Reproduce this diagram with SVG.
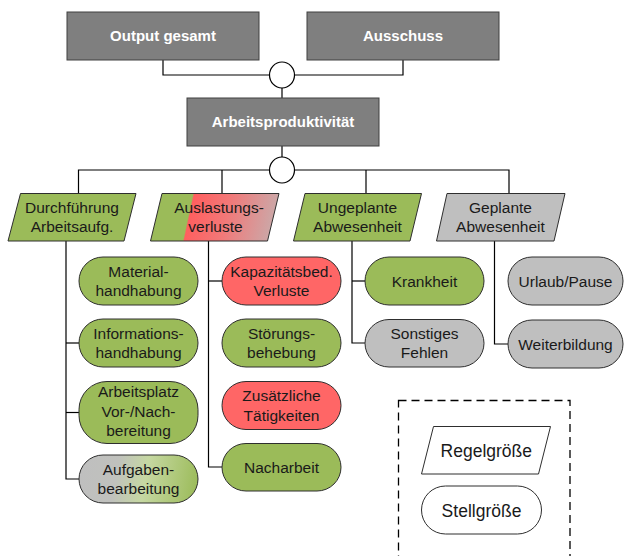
<svg xmlns="http://www.w3.org/2000/svg" width="624" height="556" viewBox="0 0 624 556">
  <defs>
    <linearGradient id="gradAuslastung" gradientUnits="userSpaceOnUse" x1="150" y1="205" x2="275" y2="232">
      <stop offset="0" stop-color="#9BBB59"/>
      <stop offset="0.31" stop-color="#9BBB59"/>
      <stop offset="0.32" stop-color="#FF5F5F"/>
      <stop offset="0.6" stop-color="#F27878"/>
      <stop offset="1" stop-color="#C9ABAB"/>
    </linearGradient>
    <linearGradient id="gradAufgaben" gradientUnits="userSpaceOnUse" x1="80" y1="470" x2="198" y2="490">
      <stop offset="0" stop-color="#BFBFBF"/>
      <stop offset="0.3" stop-color="#C0C1BD"/>
      <stop offset="0.55" stop-color="#C6D8A2"/>
      <stop offset="1" stop-color="#9BBB59"/>
    </linearGradient>
    <style>
      .box { fill: #7F7F7F; stroke: #404040; stroke-width: 1; }
      .boxtxt { font-family: "Liberation Sans", Arial, sans-serif; font-size: 15px; font-weight: bold; fill: #FFFFFF; text-anchor: middle; }
      .txt { font-family: "Liberation Sans", Arial, sans-serif; font-size: 15.5px; fill: #1A1A1A; text-anchor: middle; }
      .legtxt { font-family: "Liberation Sans", Arial, sans-serif; font-size: 17.5px; fill: #1A1A1A; text-anchor: middle; }
      .shape { stroke: #2E2E2E; stroke-width: 1; }
      .green { fill: #9BBB59; }
      .red { fill: #FF6666; }
      .grey { fill: #BFBFBF; }
      .white { fill: #FFFFFF; }
      .line { fill: none; stroke: #000000; stroke-width: 1.2; }
      .junction { fill: #FFFFFF; stroke: #000000; stroke-width: 1.2; }
      .legendframe { fill: none; stroke: #000000; stroke-width: 1.3; stroke-dasharray: 8 5; }
    </style>
  </defs>

  <!-- connectors -->
  <g id="connectors">
    <polyline class="line" points="163,60 163,75 403,75 403,60"/>
    <line class="line" x1="282" y1="75" x2="282" y2="98"/>
    <line class="line" x1="282" y1="146" x2="282" y2="170"/>
    <polyline class="line" points="78.5,193.5 78.5,170 509,170 509,193.5"/>
    <line class="line" x1="222" y1="170" x2="222" y2="193.5"/>
    <line class="line" x1="366" y1="170" x2="366" y2="193.5"/>
    <!-- branch: Durchfuehrung -->
    <polyline class="line" points="66,241 66,479 79,479"/>
    <line class="line" x1="66" y1="343" x2="79" y2="343"/>
    <line class="line" x1="66" y1="412.5" x2="79" y2="412.5"/>
    <!-- branch: Auslastungsverluste -->
    <polyline class="line" points="208.5,241 208.5,467 222,467"/>
    <line class="line" x1="208.5" y1="281" x2="222" y2="281"/>
    <!-- branch: Ungeplante Abwesenheit -->
    <polyline class="line" points="352,241 352,343 365,343"/>
    <line class="line" x1="352" y1="281" x2="365" y2="281"/>
    <!-- branch: Geplante Abwesenheit -->
    <polyline class="line" points="494.5,241 494.5,344 508,344"/>
    <!-- junctions -->
    <ellipse class="junction" cx="282" cy="75" rx="12.5" ry="13"/>
    <ellipse class="junction" cx="282" cy="170" rx="12.5" ry="13"/>
  </g>

  <!-- top level -->
  <g id="output-gesamt">
    <rect class="box" x="67" y="12" width="192" height="48"/>
    <text class="boxtxt" x="163" y="41">Output gesamt</text>
  </g>
  <g id="ausschuss">
    <rect class="box" x="307" y="12" width="192" height="48"/>
    <text class="boxtxt" x="403" y="41">Ausschuss</text>
  </g>
  <g id="arbeitsproduktivitaet">
    <rect class="box" x="187" y="98" width="192" height="48"/>
    <text class="boxtxt" x="283" y="127">Arbeitsproduktivität</text>
  </g>

  <!-- controlled variables -->
  <g id="durchfuehrung">
    <polygon class="shape green" points="20.5,193.5 136,193.5 124,241 8,241"/>
    <text class="txt" x="72" y="212.5">Durchführung</text>
    <text class="txt" x="72" y="232">Arbeitsaufg.</text>
  </g>
  <g id="auslastungsverluste">
    <polygon class="shape" fill="url(#gradAuslastung)" points="162,193.5 279,193.5 267.5,241 150.5,241"/>
    <text class="txt" x="219" y="212.5">Auslastungs-</text>
    <text class="txt" x="215.5" y="232">verluste</text>
  </g>
  <g id="ungeplante-abwesenheit">
    <polygon class="shape green" points="305,193.5 421.5,193.5 410,241 293.5,241"/>
    <text class="txt" x="357.5" y="212.5">Ungeplante</text>
    <text class="txt" x="357.5" y="232">Abwesenheit</text>
  </g>
  <g id="geplante-abwesenheit">
    <polygon class="shape grey" points="447,193.5 565,193.5 554,241 436.5,241"/>
    <text class="txt" x="500.5" y="212.5">Geplante</text>
    <text class="txt" x="500.5" y="232">Abwesenheit</text>
  </g>

  <!-- manipulated variables, column 1 -->
  <g id="materialhandhabung">
    <rect class="shape green" x="79" y="257" width="119" height="48" rx="24"/>
    <text class="txt" x="138.5" y="276.5">Material-</text>
    <text class="txt" x="138.5" y="296">handhabung</text>
  </g>
  <g id="informationshandhabung">
    <rect class="shape green" x="79" y="319" width="119" height="48" rx="24"/>
    <text class="txt" x="138.5" y="338.5">Informations-</text>
    <text class="txt" x="138.5" y="358">handhabung</text>
  </g>
  <g id="arbeitsplatz">
    <rect class="shape green" x="79" y="381.5" width="119" height="62" rx="28"/>
    <text class="txt" x="138.5" y="397">Arbeitsplatz</text>
    <text class="txt" x="138.5" y="416.7">Vor-/Nach-</text>
    <text class="txt" x="138.5" y="436.4">bereitung</text>
  </g>
  <g id="aufgabenbearbeitung">
    <rect class="shape" fill="url(#gradAufgaben)" x="79" y="455" width="119" height="48" rx="24"/>
    <text class="txt" x="138.5" y="474.5">Aufgaben-</text>
    <text class="txt" x="138.5" y="494">bearbeitung</text>
  </g>

  <!-- column 2 -->
  <g id="kapazitaetsbed-verluste">
    <rect class="shape red" x="222" y="257" width="119" height="48" rx="24"/>
    <text class="txt" x="281.5" y="276.5">Kapazitätsbed.</text>
    <text class="txt" x="281.5" y="296">Verluste</text>
  </g>
  <g id="stoerungsbehebung">
    <rect class="shape green" x="222" y="319" width="119" height="48" rx="24"/>
    <text class="txt" x="281.5" y="338.5">Störungs-</text>
    <text class="txt" x="281.5" y="358">behebung</text>
  </g>
  <g id="zusaetzliche-taetigkeiten">
    <rect class="shape red" x="222" y="381.5" width="119" height="48" rx="24"/>
    <text class="txt" x="281.5" y="401">Zusätzliche</text>
    <text class="txt" x="281.5" y="420.5">Tätigkeiten</text>
  </g>
  <g id="nacharbeit">
    <rect class="shape green" x="222" y="443.5" width="119" height="47.5" rx="24"/>
    <text class="txt" x="281.5" y="472.5">Nacharbeit</text>
  </g>

  <!-- column 3 -->
  <g id="krankheit">
    <rect class="shape green" x="365" y="257" width="119" height="48" rx="24"/>
    <text class="txt" x="424.5" y="286.5">Krankheit</text>
  </g>
  <g id="sonstiges-fehlen">
    <rect class="shape grey" x="365" y="319.5" width="119" height="47.5" rx="24"/>
    <text class="txt" x="424.5" y="338.5">Sonstiges</text>
    <text class="txt" x="424.5" y="358">Fehlen</text>
  </g>

  <!-- column 4 -->
  <g id="urlaub-pause">
    <rect class="shape grey" x="508" y="257" width="115" height="48" rx="24"/>
    <text class="txt" x="565.5" y="286.5">Urlaub/Pause</text>
  </g>
  <g id="weiterbildung">
    <rect class="shape grey" x="508" y="320" width="115" height="48" rx="24"/>
    <text class="txt" x="565.5" y="349.5">Weiterbildung</text>
  </g>

  <!-- legend -->
  <g id="legend">
    <rect class="legendframe" x="398.5" y="400.5" width="171.5" height="170"/>
    <polygon class="shape white" points="433.5,426.5 550.5,426.5 538.5,474 421.5,474"/>
    <text class="legtxt" x="486.3" y="457">Regelgröße</text>
    <rect class="shape white" x="421.5" y="486" width="120" height="48" rx="24"/>
    <text class="legtxt" x="481.5" y="516.5">Stellgröße</text>
  </g>
</svg>
